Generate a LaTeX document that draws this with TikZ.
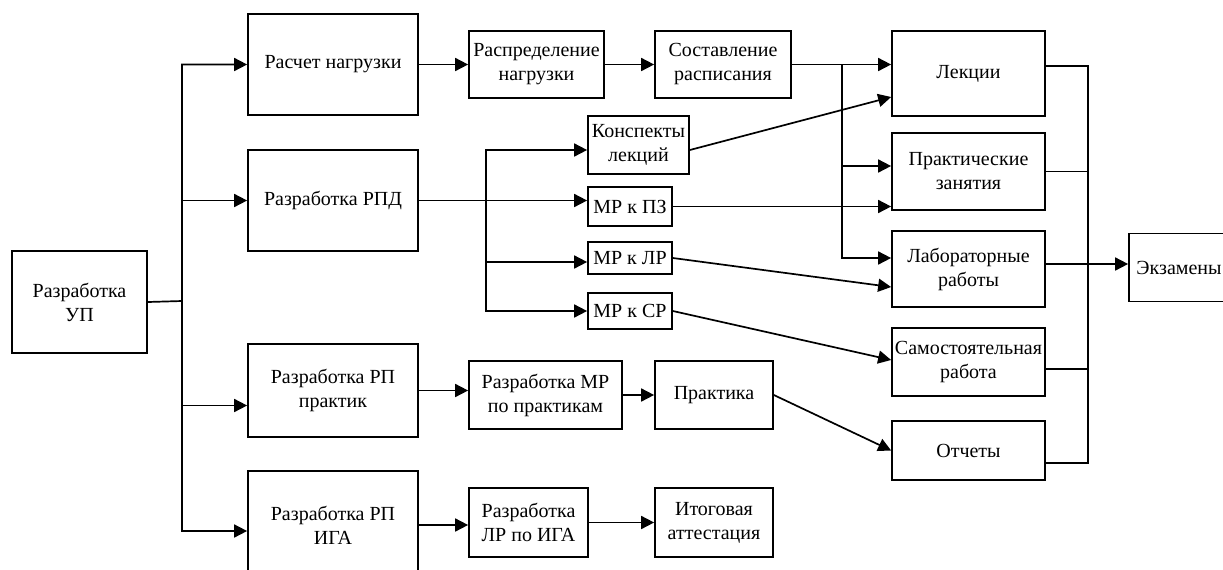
\documentclass[tikz,border=0pt]{standalone}
\usepackage{fontspec}
\setmainfont{Liberation Serif}
\usetikzlibrary{arrows.meta}

\begin{document}
\begin{tikzpicture}[x=0.5pt, y=-0.5pt,
    blk/.style={rectangle, draw=black, line width=0.85pt, align=center,
    inner sep=1pt, font=\fontsize{10}{12}\selectfont},
    arr/.style={-{Triangle[length=6.5pt, width=6.5pt]}, line width=0.85pt},
    lnk/.style={line width=0.85pt}]
    \useasboundingbox (0, 0) rectangle (1223, 569);
    \clip (0, 0) rectangle (1223, 569);

    % left column
    \node (UP) at (79.5, 302) [blk, minimum width=67.5pt, minimum height=51pt] {Разработка\\УП};
    \node (Load) at (333, 64.5) [blk, minimum width=85pt, minimum height=50.5pt] {Расчет нагрузки};
    \node (RPD) at (333, 200.5) [blk, minimum width=85pt, minimum height=50.5pt] {Разработка РПД};
    \node (RPprak) at (333, 390.5) [blk, minimum width=85pt, minimum height=46.5pt] {Разработка РП\\практик};
    \node (RPIGA) at (333, 525) [blk, minimum width=85pt, minimum height=54pt] {Разработка РП\\ИГА};

    % middle column
    \node (Distr) at (536.5, 64.5) [blk, minimum width=67.5pt, minimum height=33.5pt] {Распределение\\нагрузки};
    \node (Sched) at (723, 64.5) [blk, minimum width=68pt, minimum height=33.5pt] {Составление\\расписания};
    \node (Konsp) at (638.5, 145) [blk, minimum width=50.5pt, minimum height=29pt] {Конспекты\\лекций};
    \node (MRPZ) at (630, 206.5) [blk, minimum width=42pt, minimum height=19.5pt] {МР к ПЗ};
    \node (MRLR) at (630, 258) [blk, minimum width=42pt, minimum height=16pt] {МР к ЛР};
    \node (MRSR) at (630, 311) [blk, minimum width=42pt, minimum height=18pt] {МР к СР};
    \node (MRprak) at (545.5, 395) [blk, minimum width=76.5pt, minimum height=34pt] {Разработка МР\\по практикам};
    \node (Prakt) at (714, 395) [blk, minimum width=59pt, minimum height=34pt] {Практика};
    \node (LRIGA) at (528.5, 522.5) [blk, minimum width=59.5pt, minimum height=34.5pt] {Разработка\\ЛР по ИГА};
    \node (Itog) at (714, 522.5) [blk, minimum width=59pt, minimum height=34.5pt] {Итоговая\\аттестация};

    % right column
    \node (Lect) at (968.5, 73.5) [blk, minimum width=76.5pt, minimum height=42.5pt] {Лекции};
    \node (Prac) at (968.5, 171.5) [blk, minimum width=76.5pt, minimum height=38.5pt] {Практические\\занятия};
    \node (Lab) at (968.5, 269) [blk, minimum width=76.5pt, minimum height=38pt] {Лабораторные\\работы};
    \node (Self) at (968.5, 362) [blk, minimum width=76.5pt, minimum height=34pt] {Самостоятельная\\работа};
    \node (Rep) at (968.5, 450.5) [blk, minimum width=76.5pt, minimum height=29.5pt] {Отчеты};
    \node (Exam) at (1179, 267.5) [blk, minimum width=50pt, minimum height=34pt] {Экзамены};

    \coordinate (T) at (182, 301);
    \coordinate (T2) at (486, 200);
    \coordinate (B) at (842, 65);
    \coordinate (E) at (1088, 264);

	\draw [arr] (UP.east) -- (T) |- (Load.west);
	\draw [arr] (T) |- (RPD.west);
	\draw [arr] (T) |- ([yshift=-7.5pt]RPprak.west);
	\draw [arr] (T) |- ([yshift=-3pt]RPIGA.west);

	\draw [arr] (Load.east) -- (Distr.west);
	\draw [arr] (Distr.east) -- (Sched.west);
	\draw [arr] (Sched.east) -- (Lect.west |- Sched.east);
	\draw [arr] (B) |- ([yshift=2.75pt]Prac.west);
	\draw [arr] (B) |- ([yshift=5.5pt]Lab.west);

	\draw [arr] (RPD.east) -- (MRPZ.west |- RPD.east);
	\draw [arr] (T2) |- ([yshift=-2.5pt]Konsp.west);
	\draw [arr] (T2) |- ([yshift=-2pt]MRLR.west);
	\draw [arr] (T2) |- (MRSR.west);
	\draw [arr] ([yshift=-2.5pt]Konsp.east) -- ([yshift=-11.75pt]Lect.west);
	\draw [arr] (MRPZ.east) -- (Prac.west |- MRPZ.east);
	\draw [arr] (MRLR.east) -- ([yshift=-9pt]Lab.west);
	\draw [arr] (MRSR.east) -- ([yshift=1pt]Self.west);

	\draw [arr] (RPprak.east) -- (MRprak.west |- RPprak.east);
	\draw [arr] (MRprak.east) -- (Prakt.west);
	\draw [arr] (Prakt.east) -- (Rep.west);
	\draw [arr] (RPIGA.east) -- (LRIGA.west |- RPIGA.east);
	\draw [arr] (LRIGA.east) -- (Itog.west);

	\draw [lnk] ([yshift=3.75pt]Lect.east) -| (E);
	\draw [lnk] (Prac.east) -- (Prac.east -| E);
	\draw [lnk] ([yshift=-3.5pt]Self.east) -- ([yshift=-3.5pt]Self.east -| E);
	\draw [lnk] ([yshift=-6.25pt]Rep.east) -| (E);
	\draw [arr] ([yshift=2.5pt]Lab.east) -- (Exam.west |- E);
\end{tikzpicture}
\end{document}
